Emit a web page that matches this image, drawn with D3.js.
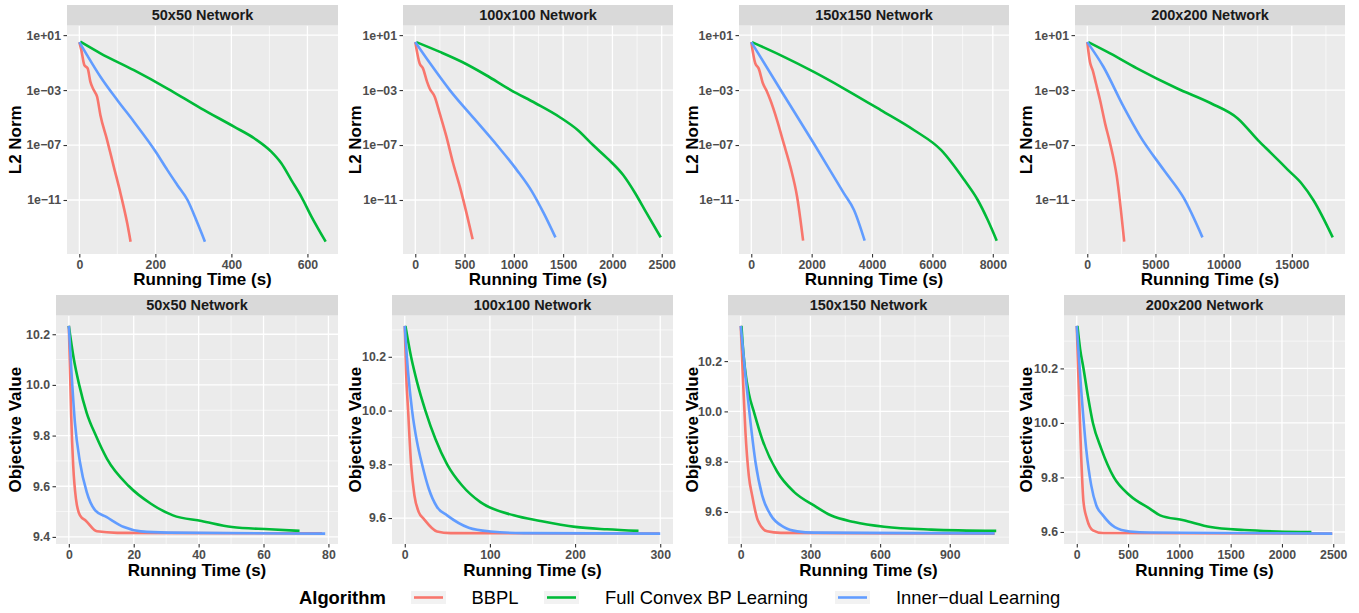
<!DOCTYPE html>
<html lang="en">
<head>
<meta charset="utf-8">
<title>Convergence by network size</title>
<script src="https://cdnjs.cloudflare.com/ajax/libs/d3/7.8.5/d3.min.js"></script>
<style>
body { margin: 0; background: #fff; }
svg { display: block; font-family: "Liberation Sans", Arial, Helvetica, sans-serif; }
</style>
</head>
<body>
<script>
// ---- data ----
var algorithms = ["BBPL", "Full Convex BP Learning", "Inner\u2212dual Learning"];
var colors = ["#F8766D", "#00BA38", "#619CFF"];
var networks = ["50x50 Network", "100x100 Network", "150x150 Network", "200x200 Network"];

// L2 norm vs running time (s): [time, norm]
var l2_50_bbpl  = [[0,3.1],[5.3,8.1e-1],[13.2,6.6e-2],[22,3.8e-2],[29,4.1e-3],[37.9,1.0e-3],[46.7,3.3e-4],[55.5,1.5e-5],[73.1,2.3e-7],[90.7,2.6e-9],[108.4,3.0e-11],[126,2.0e-13],[134.8,9.3e-15]];
var l2_50_full  = [[2.6,3.3],[55.5,4.7e-1],[143.6,2.8e-2],[231.7,1.3e-3],[319.8,4.7e-5],[407.9,2.1e-6],[460.8,3.0e-7],[504.8,3.3e-8],[531.3,4.7e-9],[557.7,2.8e-10],[584.1,1.7e-11],[610.6,6.2e-13],[648,9.3e-15]];
var l2_50_inner = [[0,3.1],[20.3,3.5e-1],[55.5,9.3e-3],[99.6,1.9e-4],[143.6,5.0e-6],[200.9,3.3e-8],[231.7,1.5e-9],[258.1,1.2e-10],[284.6,1.0e-11],[311,2.0e-13],[330.4,9.3e-15]];

var l2_100_bbpl  = [[0,3.1],[44,8.7e-2],[78,3.8e-2],[119,4.1e-3],[146,1.3e-3],[197,3.3e-4],[248,2.0e-5],[316,4.1e-7],[384,4.7e-9],[452,9.3e-11],[520,1.1e-12],[582,1.4e-14]];
var l2_100_full  = [[10,3.1],[250,6.0e-1],[476,1.1e-1],[720,1.2e-2],[969,1.0e-3],[1220,1.1e-4],[1463,1.1e-5],[1650,1.2e-6],[1803,1.0e-7],[1960,9.0e-9],[2109,6.6e-10],[2228,3.4e-11],[2347,1.1e-12],[2490,1.9e-14]];
var l2_100_inner = [[0,3.1],[150,8.9e-2],[350,1.0e-3],[600,7.9e-6],[827,1.0e-7],[1031,1.5e-9],[1184,4.1e-11],[1303,1.1e-12],[1422,1.9e-14]];

var l2_150_bbpl  = [[0,3.1],[133,8.7e-2],[244,3.8e-2],[388,3.0e-3],[521,7.6e-4],[632,1.9e-4],[853,6.6e-6],[1075,1.3e-7],[1296,2.6e-9],[1518,1.7e-11],[1717,1.1e-14]];
var l2_150_full  = [[22,3.1],[964,3.5e-1],[2072,2.1e-2],[3069,1.3e-3],[4288,3.5e-5],[5396,1.2e-6],[6283,4.4e-8],[7058,2.8e-10],[7501,1.0e-11],[7833,3.5e-13],[8130,1.1e-14]];
var l2_150_inner = [[0,3.1],[964,1.1e-3],[2072,1.3e-7],[3069,3.0e-11],[3402,1.9e-12],[3756,1.1e-14]];

var l2_200_bbpl  = [[0,3.1],[197,1.1e-1],[394,2.8e-2],[640,3.0e-3],[936,1.9e-4],[1305,3.8e-6],[1675,1.3e-7],[2167,5.0e-10],[2709,9.3e-15]];
var l2_200_full  = [[74,3.1],[1675,4.7e-1],[3645,3.8e-2],[6601,1.3e-3],[9064,1.1e-4],[11034,8.7e-6],[12512,2.3e-7],[13498,2.5e-8],[14729,1.5e-9],[15714,1.6e-10],[16576,1.0e-11],[18000,1.9e-14]];
var l2_200_inner = [[0,3.1],[1182,5.0e-2],[2660,6.2e-5],[3892,4.1e-7],[5616,1.5e-9],[7094,1.3e-11],[8448,1.9e-14]];

// objective value vs running time (s): [time, value]
var obj_50_bbpl  = [[0,10.233],[0.31,10.089],[0.73,9.879],[1.35,9.682],[2.19,9.551],[3.44,9.485],[5.31,9.463],[8.65,9.422],[14.9,9.416],[78,9.414]];
var obj_50_full  = [[0,10.233],[1.5,10.105],[3.2,10.0],[5.5,9.89],[8.33,9.8],[11.77,9.708],[18.54,9.6],[25.3,9.531],[32.1,9.485],[40.9,9.463],[50.3,9.439],[61.8,9.430],[71.1,9.424]];
var obj_50_inner = [[0,10.233],[0.83,10.049],[1.875,9.852],[3.44,9.695],[5.52,9.577],[8.13,9.505],[11.56,9.479],[16.98,9.439],[22.2,9.422],[30.5,9.417],[79,9.413]];

var obj_100_bbpl  = [[0,10.315],[1.56,10.142],[3.91,10.0],[7.43,9.8],[11.34,9.684],[16.43,9.622],[22.3,9.597],[37.9,9.550],[53.6,9.544],[299,9.542]];
var obj_100_full  = [[0.78,10.315],[7.4,10.2],[14.5,10.105],[24.2,10.0],[36.0,9.894],[49.7,9.8],[67.3,9.721],[88.8,9.659],[127.9,9.610],[159.2,9.589],[200.2,9.567],[237.4,9.558],[274.5,9.552]];
var obj_100_inner = [[0,10.315],[3.91,10.142],[8.6,10.0],[14.47,9.882],[20.3,9.8],[28.2,9.709],[37.9,9.641],[49.7,9.610],[75.1,9.564],[100.5,9.550],[139.6,9.544],[300,9.542]];

var obj_150_bbpl  = [[0,10.34],[10.1,10.115],[20.2,9.917],[34.6,9.745],[49.0,9.666],[73.4,9.567],[113.8,9.523],[171.4,9.517],[1093,9.514]];
var obj_150_full  = [[2.9,10.34],[8,10.27],[18,10.17],[35,10.07],[56,10.0],[92,9.89],[157,9.76],[229,9.68],[315,9.626],[387,9.587],[488,9.560],[617.7,9.541],[819.4,9.530],[1100,9.525]];
var obj_150_inner = [[0,10.34],[20.2,10.142],[41.8,9.957],[63.4,9.798],[92.2,9.666],[128.2,9.589],[185.8,9.540],[243.4,9.523],[315.4,9.518],[1093,9.515]];

var obj_200_bbpl  = [[0,10.356],[19.7,10.124],[42.6,9.880],[65.5,9.710],[98.3,9.649],[157.3,9.606],[255.6,9.596],[2490,9.594]];
var obj_200_full  = [[6.6,10.356],[32.8,10.271],[65.5,10.2],[108,10.1],[157.3,10.0],[239.2,9.905],[360.4,9.801],[517.7,9.734],[714.3,9.685],[812.6,9.661],[1042,9.643],[1304,9.618],[1632,9.607],[1959,9.602],[2287,9.600]];
var obj_200_inner = [[0,10.356],[42.6,10.124],[91.7,9.905],[140.9,9.771],[190,9.698],[255.6,9.661],[370.2,9.618],[517.7,9.602],[714.3,9.598],[2490,9.594]];

// tick values / labels
var l2Ticks = [1e1, 1e-3, 1e-7, 1e-11];
var l2TickLabels = ["1e+01", "1e\u221203", "1e\u221207", "1e\u221211"];
var l2Limits = [Math.pow(10, -14.93), Math.pow(10, 1.7)];
var xTicksL2 = [[0,200,400,600],[0,500,1000,1500,2000,2500],[0,2000,4000,6000,8000],[0,5000,10000,15000]];
var xTicksObj = [[0,20,40,60,80],[0,100,200,300],[0,300,600,900],[0,500,1000,1500,2000,2500]];
var yTicksObj = [[9.4,9.6,9.8,10.0,10.2],[9.6,9.8,10.0,10.2],[9.6,9.8,10.0,10.2],[9.6,9.8,10.0,10.2]];

// ---- layout ----
var W = 1359, H = 613;
var svg = d3.select("body").append("svg").attr("width", W).attr("height", H);
svg.append("rect").attr("width", W).attr("height", H).attr("fill", "#fff");

var rows = [
  {stripTop: 5, top: 25.5, bottom: 254, xTitle: 285, left: [67, 403, 739, 1075]},
  {stripTop: 295, top: 315.5, bottom: 544, xTitle: 576, left: [56, 392, 728, 1064]}
];
var panelRight = [338, 673, 1009, 1345];
var yTitleX = [15, 355, 692, 1026];

var l2Series = [[l2_50_bbpl, l2_50_full, l2_50_inner], [l2_100_bbpl, l2_100_full, l2_100_inner],
                [l2_150_bbpl, l2_150_full, l2_150_inner], [l2_200_bbpl, l2_200_full, l2_200_inner]];
var objSeries = [[obj_50_bbpl, obj_50_full, obj_50_inner], [obj_100_bbpl, obj_100_full, obj_100_inner],
                 [obj_150_bbpl, obj_150_full, obj_150_inner], [obj_200_bbpl, obj_200_full, obj_200_inner]];

function expand(ext) {
  var s = ext[1] - ext[0];
  return [ext[0] - 0.05 * s, ext[1] + 0.05 * s];
}

// midpoints between majors, one step beyond each end, kept inside the domain
function minors(ticks, dom) {
  var step = ticks[1] - ticks[0], out = [];
  for (var v = ticks[0] - step / 2; v <= ticks[ticks.length - 1] + step; v += step) {
    if (v > Math.min(dom[0], dom[1]) && v < Math.max(dom[0], dom[1])) out.push(v);
  }
  return out;
}

function drawPanel(row, col, series, xTicks, yTicks, isLog, yTitle) {
  var r = rows[row];
  var left = r.left[col], right = panelRight[col];
  var g = svg.append("g");
  var all = d3.merge(series);

  var x = d3.scaleLinear().domain(expand(d3.extent(all, function(d) { return d[0]; }))).range([left, right]);
  var y;
  if (isLog) {
    y = d3.scaleLog().domain(l2Limits).range([r.bottom, r.top]);
  } else {
    y = d3.scaleLinear().domain(expand(d3.extent(all, function(d) { return d[1]; }))).range([r.bottom, r.top]);
  }

  g.append("rect").attr("x", left).attr("y", r.top)
    .attr("width", right - left).attr("height", r.bottom - r.top).attr("fill", "#EBEBEB");

  // grid
  var xMinor = minors(xTicks, x.domain());
  var yMinor;
  if (isLog) {
    var lt = yTicks.map(function(d) { return Math.log10(d); });
    var ld = y.domain().map(function(d) { return Math.log10(d); });
    yMinor = minors(lt, ld).map(function(e) { return y(Math.pow(10, e)); });
  } else {
    yMinor = minors(yTicks, y.domain()).map(y);
  }
  g.selectAll(".xmin").data(xMinor).enter().append("line")
    .attr("x1", x).attr("x2", x).attr("y1", r.top).attr("y2", r.bottom)
    .attr("stroke", "#fff").attr("stroke-width", 0.6);
  g.selectAll(".ymin").data(yMinor).enter().append("line")
    .attr("x1", left).attr("x2", right).attr("y1", function(d) { return d; }).attr("y2", function(d) { return d; })
    .attr("stroke", "#fff").attr("stroke-width", 0.6);
  g.selectAll(".xmaj").data(xTicks).enter().append("line")
    .attr("x1", x).attr("x2", x).attr("y1", r.top).attr("y2", r.bottom)
    .attr("stroke", "#fff").attr("stroke-width", 1.3);
  g.selectAll(".ymaj").data(yTicks).enter().append("line")
    .attr("x1", left).attr("x2", right).attr("y1", y).attr("y2", y)
    .attr("stroke", "#fff").attr("stroke-width", 1.3);

  // series lines
  var line = d3.line().curve(d3.curveMonotoneX)
    .x(function(d) { return x(d[0]); }).y(function(d) { return y(d[1]); });
  series.forEach(function(s, i) {
    g.append("path").datum(s).attr("d", line)
      .attr("fill", "none").attr("stroke", colors[i])
      .attr("stroke-width", 2.6).attr("stroke-linejoin", "round");
  });

  // strip
  g.append("rect").attr("x", left).attr("y", r.stripTop)
    .attr("width", right - left).attr("height", r.top - r.stripTop).attr("fill", "#D9D9D9");
  g.append("text").attr("x", (left + right) / 2).attr("y", r.stripTop + 15.3)
    .attr("text-anchor", "middle").attr("font-size", "14.5px").attr("font-weight", "bold")
    .attr("fill", "#1A1A1A").text(networks[col]);

  // axes
  var xa = g.append("g").attr("transform", "translate(0," + r.bottom + ")")
    .call(d3.axisBottom(x).tickValues(xTicks).tickSize(3.5).tickPadding(3).tickFormat(d3.format("d")));
  var ya = g.append("g").attr("transform", "translate(" + left + ",0)")
    .call(d3.axisLeft(y).tickValues(yTicks).tickSize(3.5).tickPadding(2.5)
      .tickFormat(isLog ? function(d, i) { return l2TickLabels[i]; } : d3.format(".1f")));
  [xa, ya].forEach(function(a) {
    a.select(".domain").remove();
    a.selectAll(".tick line").attr("stroke", "#333").attr("stroke-width", 1.1);
    a.selectAll(".tick text").attr("fill", "#4D4D4D").attr("font-size", "12.3px")
      .attr("font-weight", "bold").attr("font-family", "Liberation Sans, Arial, sans-serif");
  });

  // titles
  g.append("text").attr("x", (left + right) / 2).attr("y", r.xTitle)
    .attr("text-anchor", "middle").attr("font-size", "17px").attr("font-weight", "bold")
    .attr("fill", "#000").text("Running Time (s)");
  g.append("text")
    .attr("transform", "translate(" + yTitleX[col] + "," + ((r.top + r.bottom) / 2) + ") rotate(-90)")
    .attr("dy", "0.36em").attr("text-anchor", "middle").attr("font-size", "17px")
    .attr("font-weight", "bold").attr("fill", "#000").text(yTitle);
}

for (var c = 0; c < 4; c++) {
  drawPanel(0, c, l2Series[c], xTicksL2[c], l2Ticks, true, "L2 Norm");
  drawPanel(1, c, objSeries[c], xTicksObj[c], yTicksObj[c], false, "Objective Value");
}

// ---- legend ----
var legend = svg.append("g");
legend.append("text").attr("x", 299).attr("y", 603.5)
  .attr("font-size", "18.4px").attr("font-weight", "bold").attr("fill", "#000").text("Algorithm");
var keyX = [411, 544, 835], labelX = [471.5, 605, 896];
algorithms.forEach(function(a, i) {
  legend.append("rect").attr("x", keyX[i]).attr("y", 591).attr("width", 35).attr("height", 13)
    .attr("fill", "#F2F2F2");
  legend.append("line").attr("x1", keyX[i] + 3).attr("x2", keyX[i] + 32)
    .attr("y1", 597.5).attr("y2", 597.5).attr("stroke", colors[i]).attr("stroke-width", 2.6);
  legend.append("text").attr("x", labelX[i]).attr("y", 603.5)
    .attr("font-size", "18.4px").attr("fill", "#000").text(a);
});
</script>
</body>
</html>
